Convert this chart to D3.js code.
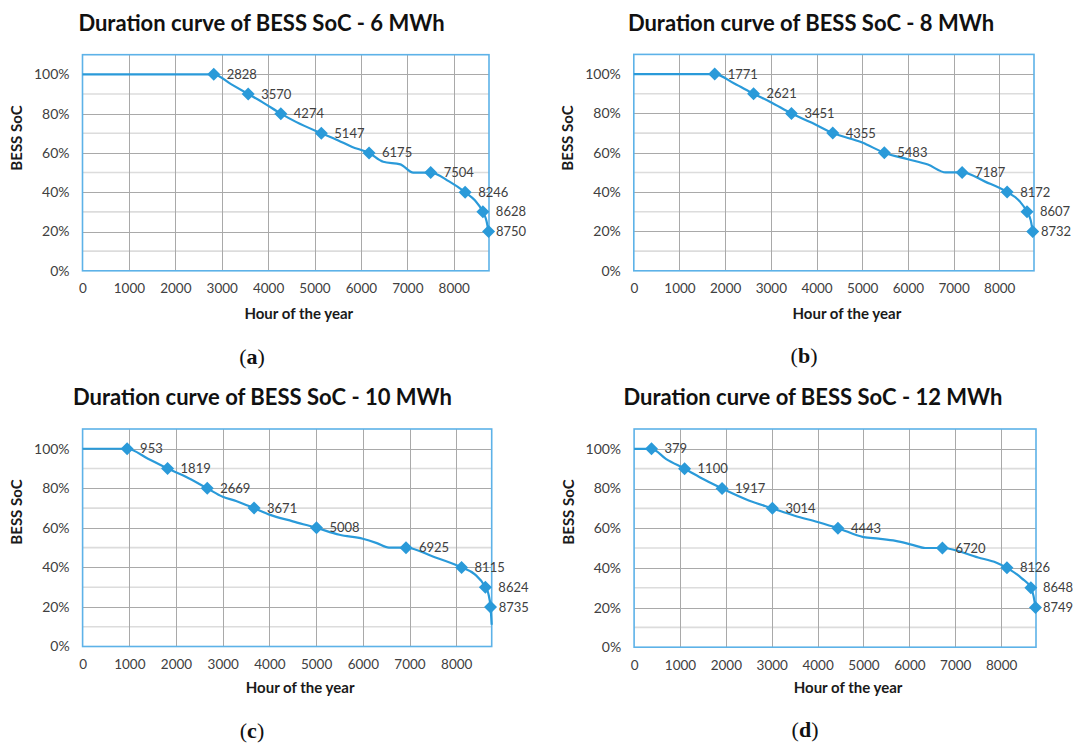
<!DOCTYPE html>
<html>
<head>
<meta charset="utf-8">
<script src="https://cdn.jsdelivr.net/npm/d3@7"></script>
<style>
  html, body { margin: 0; padding: 0; background: #ffffff; }
  svg { display: block; }
</style>
</head>
<body>
<svg id="chart" width="1077" height="744"></svg>
<script>
// ---------------- DATA ----------------
const titles = [
  "Duration curve of BESS SoC - 6 MWh",
  "Duration curve of BESS SoC - 8 MWh",
  "Duration curve of BESS SoC - 10 MWh",
  "Duration curve of BESS SoC - 12 MWh"
];
const panelLetters = ["a", "b", "c", "d"];
const xAxisTitle = "Hour of the year";
const yAxisTitle = "BESS SoC";

const xTicks = [0, 1000, 2000, 3000, 4000, 5000, 6000, 7000, 8000];
const yTicks = [0, 0.2, 0.4, 0.6, 0.8, 1.0];
const yMinorTicks = [0.1, 0.3, 0.5, 0.7, 0.9];

// SoC level of each labelled marker
const socLevels = [1.0, 0.9, 0.8, 0.7, 0.6, 0.5, 0.4, 0.3, 0.2];

// Hour at which each SoC level is reached (marker labels)
const hours6MWh  = [2828, 3570, 4274, 5147, 6175, 7504, 8246, 8628, 8750];
const hours8MWh  = [1771, 2621, 3451, 4355, 5483, 7187, 8172, 8607, 8732];
const hours10MWh = [953, 1819, 2669, 3671, 5008, 6925, 8115, 8624, 8735];
const hours12MWh = [379, 1100, 1917, 3014, 4443, 6720, 8126, 8648, 8749];

// Full duration curves [hour, SoC]
const curve6MWh = [
  [0, 1.0], [2828, 1.0], [3200, 0.95], [3570, 0.9], [3900, 0.855], [4274, 0.8],
  [4600, 0.758], [5147, 0.7], [5500, 0.665], [5800, 0.632], [6175, 0.6],
  [6480, 0.555], [6850, 0.542], [7130, 0.5], [7504, 0.5], [7900, 0.455],
  [8246, 0.4], [8450, 0.36], [8628, 0.3], [8705, 0.255], [8750, 0.2]
];
const curve8MWh = [
  [0, 1.0], [1771, 1.0], [2200, 0.952], [2621, 0.9], [3000, 0.857], [3451, 0.8],
  [3900, 0.752], [4355, 0.7], [5000, 0.652], [5483, 0.6], [6000, 0.567],
  [6437, 0.54], [6830, 0.5], [7187, 0.5], [7700, 0.452], [8172, 0.4],
  [8440, 0.355], [8607, 0.3], [8690, 0.255], [8732, 0.2]
];
const curve10MWh = [
  [0, 1.0], [953, 1.0], [1400, 0.95], [1819, 0.9], [2200, 0.86], [2669, 0.8],
  [3000, 0.757], [3300, 0.735], [3671, 0.7], [4000, 0.667], [4500, 0.633],
  [5008, 0.6], [5500, 0.565], [6000, 0.545], [6300, 0.523], [6560, 0.5],
  [6925, 0.5], [7500, 0.455], [8115, 0.4], [8400, 0.365], [8624, 0.3],
  [8690, 0.265], [8735, 0.2], [8760, 0.11]
];
const curve12MWh = [
  [0, 1.0], [379, 1.0], [700, 0.948], [1100, 0.9], [1525, 0.845], [1917, 0.8],
  [2498, 0.74], [3014, 0.7], [3500, 0.663], [4000, 0.631], [4443, 0.6],
  [5000, 0.555], [5330, 0.547], [5700, 0.536], [6066, 0.516], [6344, 0.5],
  [6720, 0.5], [7500, 0.452], [7900, 0.426], [8126, 0.4], [8450, 0.347],
  [8648, 0.3], [8705, 0.26], [8749, 0.2]
];

const markerHours = [hours6MWh, hours8MWh, hours10MWh, hours12MWh];
const curves = [curve6MWh, curve8MWh, curve10MWh, curve12MWh];

// ---------------- LAYOUT / STYLE ----------------
const layouts = [
  { left: 82.5,  right: 489,   top: 54.7, bottom: 270.8, titleX: 261.5, titleY: 31,    letterX: 252, letterY: 364, yTitleX: 17,  yTitleY: 138, xTitleY: 319 },
  { left: 633.8, right: 1034,  top: 54.4, bottom: 270.8, titleX: 811,   titleY: 31,    letterX: 804, letterY: 363, yTitleX: 568, yTitleY: 138, xTitleY: 319 },
  { left: 82.6,  right: 491.7, top: 429,  bottom: 646.5, titleX: 262.5, titleY: 404.5, letterX: 252, letterY: 738, yTitleX: 17,  yTitleY: 512, xTitleY: 693 },
  { left: 634.1, right: 1036,  top: 429,  bottom: 647.2, titleX: 813,   titleY: 404.5, letterX: 805, letterY: 737, yTitleX: 569, yTitleY: 512, xTitleY: 693 }
];

const FONT = "Lato, 'Open Sans', sans-serif";
const BLUE = "#2a9ad9";
const BORDER = "#5db2e8";
const GRID_MAJOR = "#a9a9a9";
const GRID_MINOR = "#dcdcdc";
const TEXT_GRAY = "#404040";

const svg = d3.select("#chart");

layouts.forEach((L, i) => {
  const g = svg.append("g");
  const x = d3.scaleLinear().domain([0, 8760]).range([L.left, L.right]);
  const y = d3.scaleLinear().domain([0, 1.1]).range([L.bottom, L.top]);

  g.append("g").selectAll("line").data(yMinorTicks).join("line")
    .attr("x1", L.left).attr("x2", L.right)
    .attr("y1", d => y(d)).attr("y2", d => y(d))
    .attr("stroke", GRID_MINOR).attr("stroke-width", 1.6);

  g.append("g").selectAll("line").data(yTicks.filter(d => d > 0)).join("line")
    .attr("x1", L.left).attr("x2", L.right)
    .attr("y1", d => Math.round(y(d)) + 0.5).attr("y2", d => Math.round(y(d)) + 0.5)
    .attr("stroke", GRID_MAJOR).attr("stroke-width", 1);

  g.append("g").selectAll("line").data(xTicks.filter(d => d > 0)).join("line")
    .attr("y1", L.top).attr("y2", L.bottom)
    .attr("x1", d => Math.round(x(d)) + 0.5).attr("x2", d => Math.round(x(d)) + 0.5)
    .attr("stroke", GRID_MAJOR).attr("stroke-width", 1);

  g.append("rect")
    .attr("x", L.left).attr("y", L.top)
    .attr("width", L.right - L.left).attr("height", L.bottom - L.top)
    .attr("fill", "none").attr("stroke", BORDER).attr("stroke-width", 1.6);

  const xAxis = g.append("g")
    .attr("transform", `translate(0,${L.bottom})`)
    .call(d3.axisBottom(x).tickValues(xTicks).tickSize(0).tickPadding(13).tickFormat(d3.format("d")));
  const yAxis = g.append("g")
    .attr("transform", `translate(${L.left},0)`)
    .call(d3.axisLeft(y).tickValues(yTicks).tickSize(0).tickPadding(13).tickFormat(d3.format(".0%")));
  xAxis.select(".domain").remove();
  yAxis.select(".domain").remove();
  xAxis.selectAll("text").attr("font-family", FONT).attr("font-size", 13.5).attr("fill", TEXT_GRAY);
  yAxis.selectAll("text").attr("font-family", FONT).attr("font-size", 14).attr("fill", TEXT_GRAY);

  const line = d3.line().x(d => x(d[0])).y(d => y(d[1])).curve(d3.curveMonotoneX);
  g.append("path").datum(curves[i])
    .attr("d", line)
    .attr("fill", "none").attr("stroke", BLUE).attr("stroke-width", 2.2)
    .attr("stroke-linejoin", "round");

  const pts = markerHours[i].map((h, k) => ({ h, s: socLevels[k] }));
  const r = 6.5;
  g.append("g").selectAll("path").data(pts).join("path")
    .attr("d", `M0,${-r}L${r},0L0,${r}L${-r},0Z`)
    .attr("transform", d => `translate(${x(d.h)},${y(d.s)})`)
    .attr("fill", BLUE);

  g.append("g").selectAll("text").data(pts).join("text")
    .attr("x", d => Math.min(x(d.h) + 13, L.right + 7))
    .attr("y", d => y(d.s))
    .attr("dy", "0.35em")
    .attr("font-family", FONT).attr("font-size", 13).attr("fill", TEXT_GRAY)
    .text(d => d.h);

  g.append("text")
    .attr("x", L.titleX).attr("y", L.titleY)
    .attr("text-anchor", "middle")
    .attr("font-family", FONT).attr("font-weight", "bold").attr("font-size", 22)
    .attr("fill", "#111")
    .text(titles[i]);

  g.append("text")
    .attr("x", (L.left + L.right) / 2 + 13).attr("y", L.xTitleY)
    .attr("text-anchor", "middle")
    .attr("font-family", FONT).attr("font-weight", "bold").attr("font-size", 15)
    .attr("fill", "#1a1a1a")
    .text(xAxisTitle);
  g.append("text")
    .attr("transform", `translate(${L.yTitleX + 5},${L.yTitleY}) rotate(-90)`)
    .attr("text-anchor", "middle")
    .attr("font-family", FONT).attr("font-weight", "bold").attr("font-size", 15)
    .attr("fill", "#1a1a1a")
    .text(yAxisTitle);

  const lt = g.append("text")
    .attr("x", L.letterX).attr("y", L.letterY)
    .attr("text-anchor", "middle")
    .attr("font-family", "'Liberation Serif', 'DejaVu Serif', serif").attr("font-size", 22)
    .attr("fill", "#111");
  lt.append("tspan").text("(");
  lt.append("tspan").attr("font-weight", "bold").text(panelLetters[i]);
  lt.append("tspan").text(")");
});
</script>
</body>
</html>
